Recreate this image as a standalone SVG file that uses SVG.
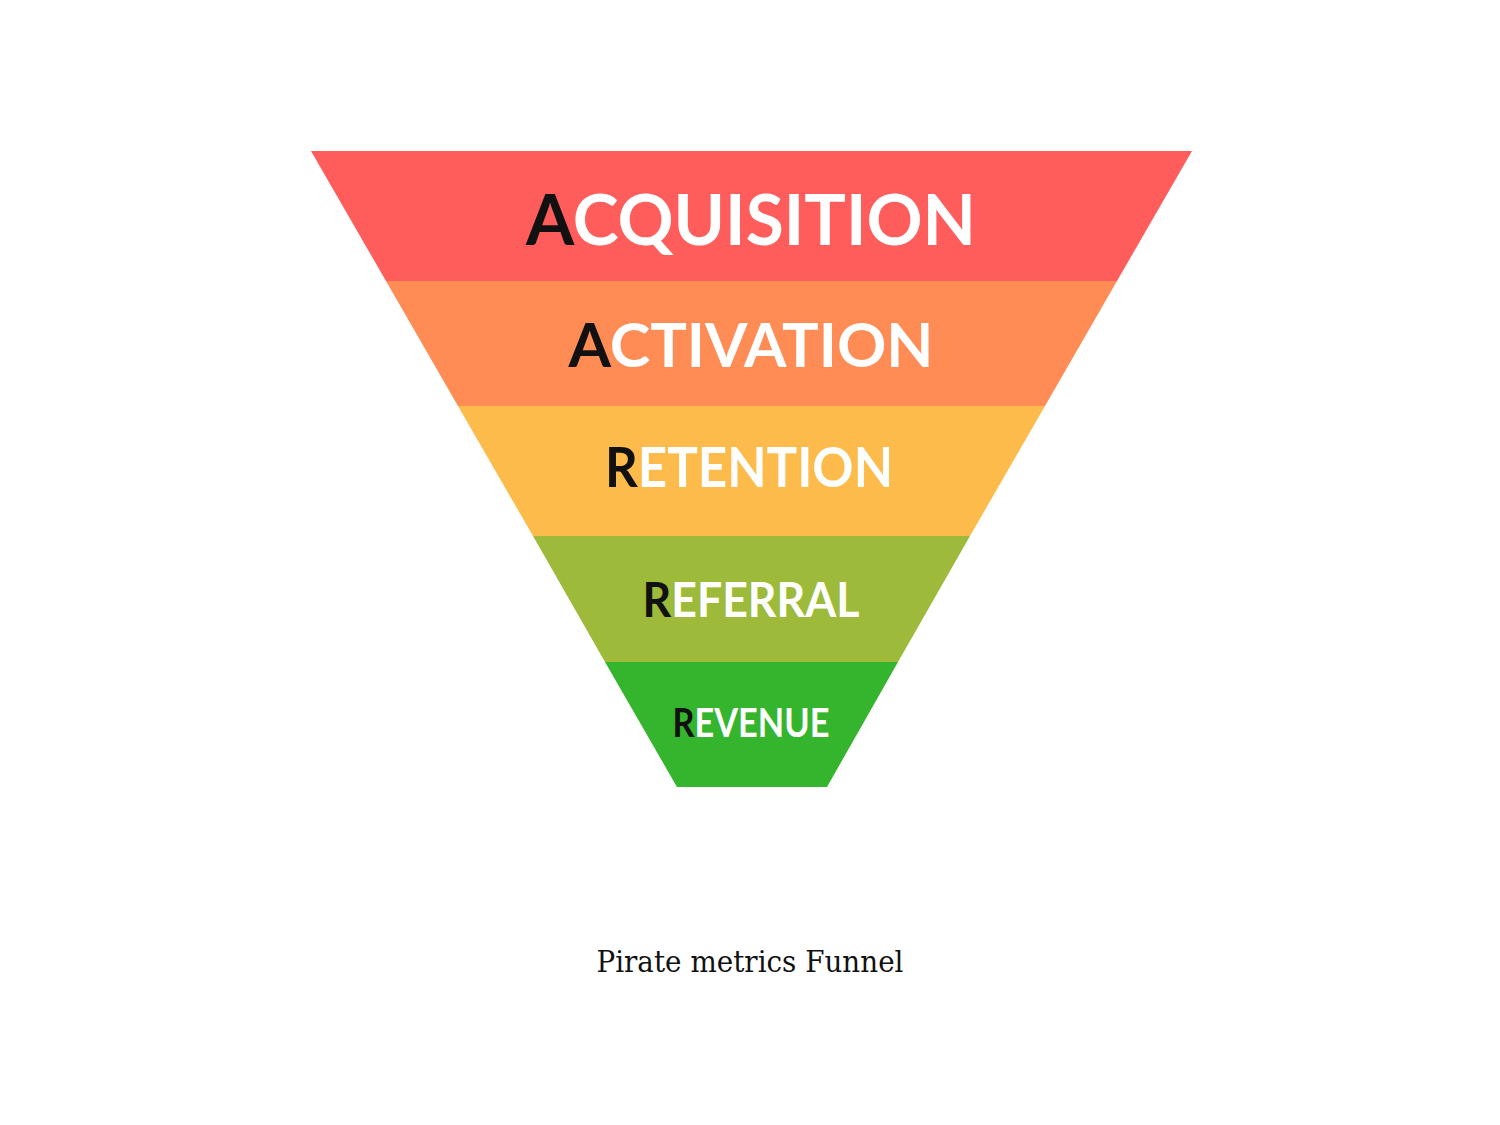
<svg xmlns="http://www.w3.org/2000/svg" width="1500" height="1125" viewBox="0 0 1500 1125">
<style>
.lbl{font-family:Lato,"Open Sans","Liberation Sans",sans-serif;font-weight:700;fill:#ffffff;text-anchor:middle}
.ini{fill:#111111}
.cap{font-family:"DejaVu Serif","Liberation Serif",serif;font-size:29px;fill:#111111;text-anchor:middle}
</style>
<rect width="1500" height="1125" fill="#ffffff"/>
<g id="acquisition">
<polygon points="311,151 1192,151 1117,281 386,281" fill="#FF5C5C"/>
<text class="lbl" x="751" y="245" font-size="70" textLength="450" lengthAdjust="spacingAndGlyphs"><tspan class="ini">A</tspan>CQUISITION</text>
</g>
<g id="activation">
<polygon points="386,281 1117,281 1045,406 458,406" fill="#FF8C55"/>
<text class="lbl" x="751" y="367" font-size="62" textLength="365" lengthAdjust="spacingAndGlyphs"><tspan class="ini">A</tspan>CTIVATION</text>
</g>
<g id="retention">
<polygon points="458,406 1045,406 970,536 533,536" fill="#FDBB4B"/>
<text class="lbl" x="749" y="487" font-size="55" textLength="288" lengthAdjust="spacingAndGlyphs"><tspan class="ini">R</tspan>ETENTION</text>
</g>
<g id="referral">
<polygon points="533,536 970,536 898,662 605,662" fill="#9DBA3A"/>
<text class="lbl" x="751" y="617" font-size="47" textLength="217" lengthAdjust="spacingAndGlyphs"><tspan class="ini">R</tspan>EFERRAL</text>
</g>
<g id="revenue">
<polygon points="605,662 898,662 827,787 677,787" fill="#34B52D"/>
<text class="lbl" x="751" y="737" font-size="40" textLength="157" lengthAdjust="spacingAndGlyphs"><tspan class="ini">R</tspan>EVENUE</text>
</g>
<g id="connectors"></g>
<text class="cap" x="750" y="972" textLength="307" lengthAdjust="spacingAndGlyphs">Pirate metrics Funnel</text>
</svg>
